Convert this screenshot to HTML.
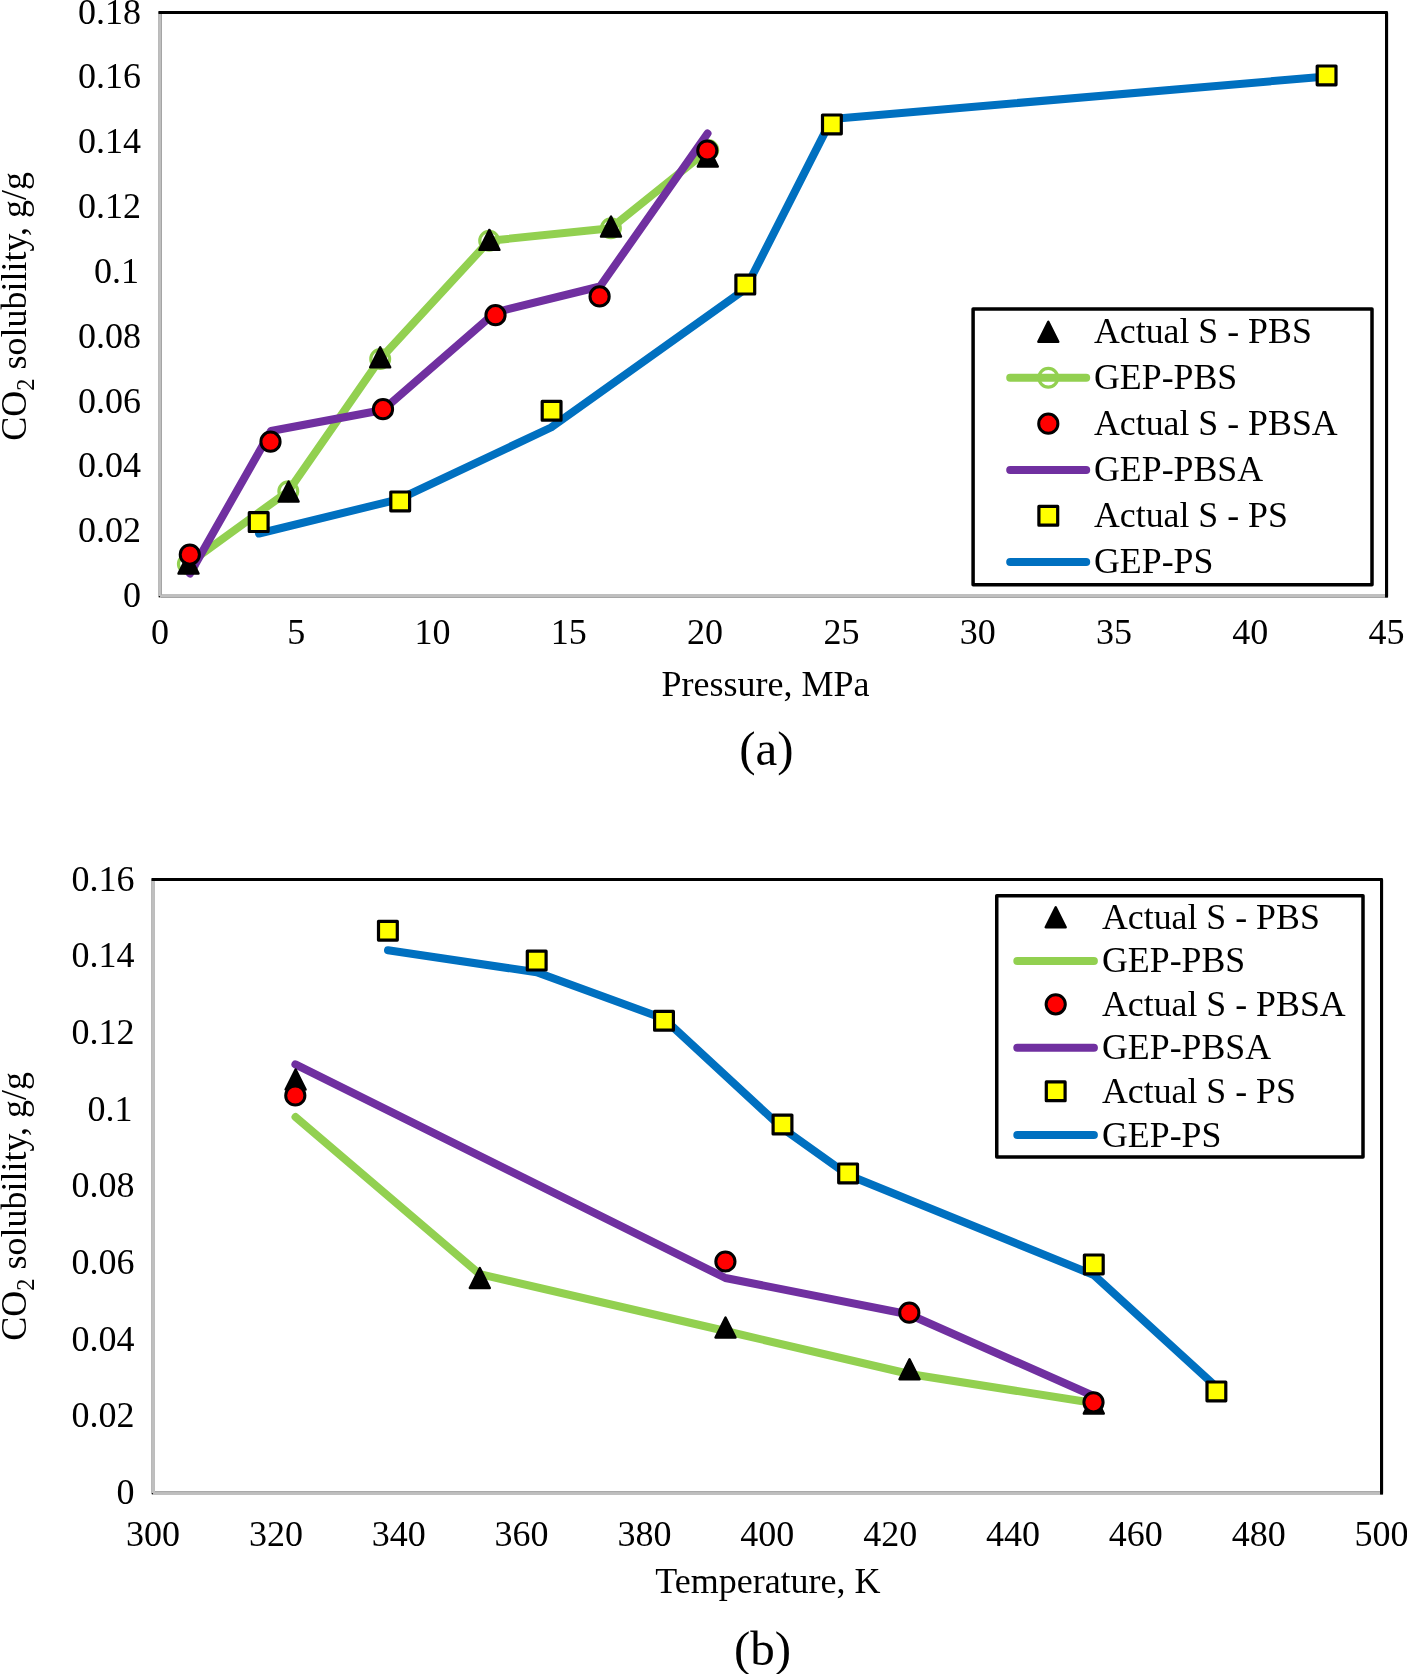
<!DOCTYPE html>
<html><head><meta charset="utf-8"><title>CO2 solubility charts</title>
<style>
html,body{margin:0;padding:0;background:#fff;}
body{width:1407px;height:1674px;overflow:hidden;}
svg{display:block;will-change:transform;}
svg text{font-family:"Liberation Serif", serif;fill:#000;}
</style></head>
<body>
<svg width="1407" height="1674" viewBox="0 0 1407 1674">
<rect width="1407" height="1674" fill="#fff"/>
<rect x="160.0" y="12.45" width="1226.55" height="583.55" fill="none" stroke="#000" stroke-width="3" stroke-linejoin="round"/>
<polyline points="160.0,12.45 160.0,596.0 1386.55,596.0" fill="none" stroke="#BFBFBF" stroke-width="3.85" stroke-linejoin="round"/>
<circle cx="159.4" cy="596.6" r="0.7" fill="#000"/>
<line x1="161.5" y1="13.95" x2="161.5" y2="595.0" stroke="#A0A0A0" stroke-width="0.8"/>
<line x1="161.0" y1="597.5" x2="1386.55" y2="597.5" stroke="#A0A0A0" stroke-width="0.8"/>
<polyline points="158.5,12.45 1386.55,12.45 1386.55,597.5" fill="none" stroke="#000" stroke-width="3.05" stroke-linejoin="round"/>
<text x="141.0" y="607.0" font-size="36" text-anchor="end" >0</text>
<text x="141.0" y="542.2" font-size="36" text-anchor="end" >0.02</text>
<text x="141.0" y="477.3" font-size="36" text-anchor="end" >0.04</text>
<text x="141.0" y="412.5" font-size="36" text-anchor="end" >0.06</text>
<text x="141.0" y="347.6" font-size="36" text-anchor="end" >0.08</text>
<text x="139.0" y="282.8" font-size="36" text-anchor="end" >0.1</text>
<text x="141.0" y="218.0" font-size="36" text-anchor="end" >0.12</text>
<text x="141.0" y="153.1" font-size="36" text-anchor="end" >0.14</text>
<text x="141.0" y="88.3" font-size="36" text-anchor="end" >0.16</text>
<text x="141.0" y="23.5" font-size="36" text-anchor="end" >0.18</text>
<text x="160.0" y="644.0" font-size="36" text-anchor="middle" >0</text>
<text x="296.3" y="644.0" font-size="36" text-anchor="middle" >5</text>
<text x="432.6" y="644.0" font-size="36" text-anchor="middle" >10</text>
<text x="568.8" y="644.0" font-size="36" text-anchor="middle" >15</text>
<text x="705.1" y="644.0" font-size="36" text-anchor="middle" >20</text>
<text x="841.4" y="644.0" font-size="36" text-anchor="middle" >25</text>
<text x="977.7" y="644.0" font-size="36" text-anchor="middle" >30</text>
<text x="1114.0" y="644.0" font-size="36" text-anchor="middle" >35</text>
<text x="1250.3" y="644.0" font-size="36" text-anchor="middle" >40</text>
<text x="1386.5" y="644.0" font-size="36" text-anchor="middle" >45</text>
<text x="765.6" y="695.9" font-size="36" text-anchor="middle" >Pressure, MPa</text>
<text x="766.5" y="765.0" font-size="49" text-anchor="middle" >(a)</text>
<text transform="translate(26,306.4) rotate(-90)" font-size="36" text-anchor="middle">CO<tspan font-size="24.5" dy="8.3">2</tspan><tspan dy="-8.3"> solubility, g/g</tspan></text>
<polyline points="187.9,564.0 288.3,491.2 380.2,359.0 489.2,240.8 610.9,228.2 708.2,150.0" fill="none" stroke="#92D050" stroke-width="8" stroke-linejoin="round" stroke-linecap="round"/>
<circle cx="187.9" cy="564.0" r="9.4" fill="none" stroke="#92D050" stroke-width="3.2"/>
<circle cx="288.3" cy="491.2" r="9.4" fill="none" stroke="#92D050" stroke-width="3.2"/>
<circle cx="380.2" cy="359.0" r="9.4" fill="none" stroke="#92D050" stroke-width="3.2"/>
<circle cx="489.2" cy="240.8" r="9.4" fill="none" stroke="#92D050" stroke-width="3.2"/>
<circle cx="610.9" cy="228.2" r="9.4" fill="none" stroke="#92D050" stroke-width="3.2"/>
<circle cx="708.2" cy="150.0" r="9.4" fill="none" stroke="#92D050" stroke-width="3.2"/>
<polyline points="190.0,573.5 271.0,431.0 383.0,410.0 495.5,312.3 600.0,286.5 707.5,133.5" fill="none" stroke="#7030A0" stroke-width="8" stroke-linejoin="round" stroke-linecap="round"/>
<polyline points="259.0,533.5 398.5,499.3 551.0,427.5 745.4,289.0 831.8,118.9 1326.5,76.5" fill="none" stroke="#0070C0" stroke-width="8" stroke-linejoin="round" stroke-linecap="round"/>
<polygon points="178.5,573.6 198.5,573.6 188.5,553.6" fill="#000" stroke="#000" stroke-width="2.4" stroke-linejoin="round"/>
<polygon points="278.6,501.5 298.6,501.5 288.6,481.5" fill="#000" stroke="#000" stroke-width="2.4" stroke-linejoin="round"/>
<polygon points="370.2,367.2 390.2,367.2 380.2,347.2" fill="#000" stroke="#000" stroke-width="2.4" stroke-linejoin="round"/>
<polygon points="479.4,249.9 499.4,249.9 489.4,229.9" fill="#000" stroke="#000" stroke-width="2.4" stroke-linejoin="round"/>
<polygon points="601.0,236.6 621.0,236.6 611.0,216.6" fill="#000" stroke="#000" stroke-width="2.4" stroke-linejoin="round"/>
<polygon points="697.8,166.6 717.8,166.6 707.8,146.6" fill="#000" stroke="#000" stroke-width="2.4" stroke-linejoin="round"/>
<circle cx="189.8" cy="554.6" r="9.6" fill="#FF0000" stroke="#000" stroke-width="3.0"/>
<circle cx="270.5" cy="441.7" r="9.6" fill="#FF0000" stroke="#000" stroke-width="3.0"/>
<circle cx="383.0" cy="409.2" r="9.6" fill="#FF0000" stroke="#000" stroke-width="3.0"/>
<circle cx="495.5" cy="315.2" r="9.6" fill="#FF0000" stroke="#000" stroke-width="3.0"/>
<circle cx="599.6" cy="296.4" r="9.6" fill="#FF0000" stroke="#000" stroke-width="3.0"/>
<circle cx="707.3" cy="150.5" r="9.6" fill="#FF0000" stroke="#000" stroke-width="3.0"/>
<rect x="249.3" y="512.7" width="18.8" height="18.8" fill="#FFFF00" stroke="#000" stroke-width="3.2" stroke-linejoin="round"/>
<rect x="390.8" y="492.0" width="18.8" height="18.8" fill="#FFFF00" stroke="#000" stroke-width="3.2" stroke-linejoin="round"/>
<rect x="542.2" y="401.4" width="18.8" height="18.8" fill="#FFFF00" stroke="#000" stroke-width="3.2" stroke-linejoin="round"/>
<rect x="735.9" y="275.2" width="18.8" height="18.8" fill="#FFFF00" stroke="#000" stroke-width="3.2" stroke-linejoin="round"/>
<rect x="822.5" y="115.0" width="18.8" height="18.8" fill="#FFFF00" stroke="#000" stroke-width="3.2" stroke-linejoin="round"/>
<rect x="1317.2" y="66.0" width="18.8" height="18.8" fill="#FFFF00" stroke="#000" stroke-width="3.2" stroke-linejoin="round"/>
<rect x="973.1" y="309.05" width="398.9" height="275.75" fill="#fff" stroke="#000" stroke-width="3.5" stroke-linejoin="round"/>
<polygon points="1038.3,341.8 1058.3,341.8 1048.3,321.8" fill="#000" stroke="#000" stroke-width="2.4" stroke-linejoin="round"/>
<polyline points="1010.2,377.8 1086.2,377.8" fill="none" stroke="#92D050" stroke-width="8" stroke-linejoin="round" stroke-linecap="round"/>
<circle cx="1048.3" cy="377.8" r="9.4" fill="none" stroke="#92D050" stroke-width="3.2"/>
<circle cx="1048.3" cy="423.7" r="9.6" fill="#FF0000" stroke="#000" stroke-width="3.0"/>
<polyline points="1010.2,470.0 1086.2,470.0" fill="none" stroke="#7030A0" stroke-width="8" stroke-linejoin="round" stroke-linecap="round"/>
<rect x="1038.9" y="506.4" width="18.8" height="18.8" fill="#FFFF00" stroke="#000" stroke-width="3.2" stroke-linejoin="round"/>
<polyline points="1010.2,561.9 1086.2,561.9" fill="none" stroke="#0070C0" stroke-width="8" stroke-linejoin="round" stroke-linecap="round"/>
<text x="1094.0" y="343.0" font-size="35.8" text-anchor="start" >Actual S - PBS</text>
<text x="1094.0" y="389.0" font-size="35.8" text-anchor="start" >GEP-PBS</text>
<text x="1094.0" y="434.9" font-size="35.8" text-anchor="start" >Actual S - PBSA</text>
<text x="1094.0" y="481.2" font-size="35.8" text-anchor="start" >GEP-PBSA</text>
<text x="1094.0" y="527.0" font-size="35.8" text-anchor="start" >Actual S - PS</text>
<text x="1094.0" y="573.1" font-size="35.8" text-anchor="start" >GEP-PS</text>
<rect x="153.05" y="879.5" width="1228.5" height="613.5" fill="none" stroke="#000" stroke-width="3" stroke-linejoin="round"/>
<polyline points="153.05,879.5 153.05,1493.0 1381.55,1493.0" fill="none" stroke="#BFBFBF" stroke-width="3.85" stroke-linejoin="round"/>
<circle cx="152.45000000000002" cy="1493.6" r="0.7" fill="#000"/>
<line x1="155.05" y1="1491.6" x2="1381.55" y2="1491.6" stroke="#A0A0A0" stroke-width="0.8"/>
<polyline points="151.55,879.5 1381.55,879.5 1381.55,1494.5" fill="none" stroke="#000" stroke-width="3.05" stroke-linejoin="round"/>
<text x="134.6" y="1504.0" font-size="36" text-anchor="end" >0</text>
<text x="134.6" y="1427.3" font-size="36" text-anchor="end" >0.02</text>
<text x="134.6" y="1350.6" font-size="36" text-anchor="end" >0.04</text>
<text x="134.6" y="1273.9" font-size="36" text-anchor="end" >0.06</text>
<text x="134.6" y="1197.2" font-size="36" text-anchor="end" >0.08</text>
<text x="132.6" y="1120.6" font-size="36" text-anchor="end" >0.1</text>
<text x="134.6" y="1043.9" font-size="36" text-anchor="end" >0.12</text>
<text x="134.6" y="967.2" font-size="36" text-anchor="end" >0.14</text>
<text x="134.6" y="890.5" font-size="36" text-anchor="end" >0.16</text>
<text x="153.1" y="1546.2" font-size="36" text-anchor="middle" >300</text>
<text x="275.9" y="1546.2" font-size="36" text-anchor="middle" >320</text>
<text x="398.8" y="1546.2" font-size="36" text-anchor="middle" >340</text>
<text x="521.6" y="1546.2" font-size="36" text-anchor="middle" >360</text>
<text x="644.5" y="1546.2" font-size="36" text-anchor="middle" >380</text>
<text x="767.3" y="1546.2" font-size="36" text-anchor="middle" >400</text>
<text x="890.2" y="1546.2" font-size="36" text-anchor="middle" >420</text>
<text x="1013.0" y="1546.2" font-size="36" text-anchor="middle" >440</text>
<text x="1135.8" y="1546.2" font-size="36" text-anchor="middle" >460</text>
<text x="1258.7" y="1546.2" font-size="36" text-anchor="middle" >480</text>
<text x="1381.5" y="1546.2" font-size="36" text-anchor="middle" >500</text>
<text x="767.9" y="1593.4" font-size="36" text-anchor="middle" >Temperature, K</text>
<text x="762.5" y="1664.5" font-size="49" text-anchor="middle" >(b)</text>
<text transform="translate(26,1206.4) rotate(-90)" font-size="36" text-anchor="middle">CO<tspan font-size="24.5" dy="8.3">2</tspan><tspan dy="-8.3"> solubility, g/g</tspan></text>
<polyline points="295.5,1117.0 479.8,1274.2 725.5,1331.0 909.5,1374.0 1093.7,1403.0" fill="none" stroke="#92D050" stroke-width="8" stroke-linejoin="round" stroke-linecap="round"/>
<polyline points="295.4,1064.4 725.4,1278.0 909.3,1314.5 1093.6,1396.0" fill="none" stroke="#7030A0" stroke-width="8" stroke-linejoin="round" stroke-linecap="round"/>
<polyline points="388.0,950.2 536.7,972.3 664.0,1018.7 782.5,1128.3 848.1,1175.0 1093.8,1275.0 1216.4,1387.0" fill="none" stroke="#0070C0" stroke-width="8" stroke-linejoin="round" stroke-linecap="round"/>
<polygon points="285.6,1089.5 305.6,1089.5 295.6,1069.5" fill="#000" stroke="#000" stroke-width="2.4" stroke-linejoin="round"/>
<polygon points="469.8,1288.0 489.8,1288.0 479.8,1268.0" fill="#000" stroke="#000" stroke-width="2.4" stroke-linejoin="round"/>
<polygon points="715.5,1337.5 735.5,1337.5 725.5,1317.5" fill="#000" stroke="#000" stroke-width="2.4" stroke-linejoin="round"/>
<polygon points="899.5,1379.2 919.5,1379.2 909.5,1359.2" fill="#000" stroke="#000" stroke-width="2.4" stroke-linejoin="round"/>
<polygon points="1083.8,1413.6 1103.8,1413.6 1093.8,1393.6" fill="#000" stroke="#000" stroke-width="2.4" stroke-linejoin="round"/>
<circle cx="295.3" cy="1095.5" r="9.6" fill="#FF0000" stroke="#000" stroke-width="3.0"/>
<circle cx="725.4" cy="1261.5" r="9.6" fill="#FF0000" stroke="#000" stroke-width="3.0"/>
<circle cx="909.3" cy="1312.7" r="9.6" fill="#FF0000" stroke="#000" stroke-width="3.0"/>
<circle cx="1093.5" cy="1402.3" r="9.6" fill="#FF0000" stroke="#000" stroke-width="3.0"/>
<rect x="378.5" y="921.3" width="18.8" height="18.8" fill="#FFFF00" stroke="#000" stroke-width="3.2" stroke-linejoin="round"/>
<rect x="527.3" y="951.2" width="18.8" height="18.8" fill="#FFFF00" stroke="#000" stroke-width="3.2" stroke-linejoin="round"/>
<rect x="654.6" y="1011.4" width="18.8" height="18.8" fill="#FFFF00" stroke="#000" stroke-width="3.2" stroke-linejoin="round"/>
<rect x="773.1" y="1115.1" width="18.8" height="18.8" fill="#FFFF00" stroke="#000" stroke-width="3.2" stroke-linejoin="round"/>
<rect x="838.7" y="1164.0" width="18.8" height="18.8" fill="#FFFF00" stroke="#000" stroke-width="3.2" stroke-linejoin="round"/>
<rect x="1084.4" y="1255.0" width="18.8" height="18.8" fill="#FFFF00" stroke="#000" stroke-width="3.2" stroke-linejoin="round"/>
<rect x="1207.0" y="1382.0" width="18.8" height="18.8" fill="#FFFF00" stroke="#000" stroke-width="3.2" stroke-linejoin="round"/>
<rect x="996.75" y="895.8" width="366.25" height="261.1" fill="#fff" stroke="#000" stroke-width="3.5" stroke-linejoin="round"/>
<polygon points="1045.7,927.2 1065.7,927.2 1055.7,907.2" fill="#000" stroke="#000" stroke-width="2.4" stroke-linejoin="round"/>
<polyline points="1017.3,960.9 1093.9,960.9" fill="none" stroke="#92D050" stroke-width="8" stroke-linejoin="round" stroke-linecap="round"/>
<circle cx="1055.7" cy="1004.3" r="9.6" fill="#FF0000" stroke="#000" stroke-width="3.0"/>
<polyline points="1017.3,1047.8 1093.9,1047.8" fill="none" stroke="#7030A0" stroke-width="8" stroke-linejoin="round" stroke-linecap="round"/>
<rect x="1046.3" y="1081.9" width="18.8" height="18.8" fill="#FFFF00" stroke="#000" stroke-width="3.2" stroke-linejoin="round"/>
<polyline points="1017.3,1135.0 1093.9,1135.0" fill="none" stroke="#0070C0" stroke-width="8" stroke-linejoin="round" stroke-linecap="round"/>
<text x="1102.0" y="928.7" font-size="35.8" text-anchor="start" >Actual S - PBS</text>
<text x="1102.0" y="972.4" font-size="35.8" text-anchor="start" >GEP-PBS</text>
<text x="1102.0" y="1015.8" font-size="35.8" text-anchor="start" >Actual S - PBSA</text>
<text x="1102.0" y="1059.3" font-size="35.8" text-anchor="start" >GEP-PBSA</text>
<text x="1102.0" y="1102.8" font-size="35.8" text-anchor="start" >Actual S - PS</text>
<text x="1102.0" y="1146.5" font-size="35.8" text-anchor="start" >GEP-PS</text>
</svg>
</body></html>
